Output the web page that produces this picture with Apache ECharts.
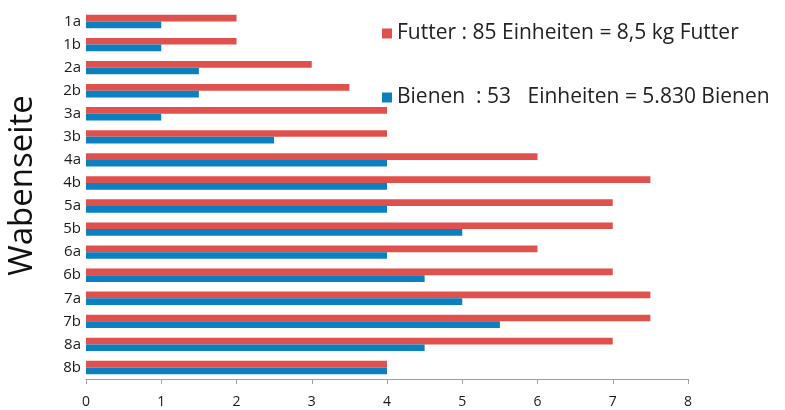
<!DOCTYPE html>
<html>
<head>
<meta charset="utf-8">
<script src="https://cdn.jsdelivr.net/npm/echarts@6/dist/echarts.min.js"></script>
<style>
  html, body { margin: 0; padding: 0; background: #fff; }
  #chart { width: 785px; height: 410px; }
</style>
</head>
<body>
<div id="chart"></div>
<script>
const categories = ['1a', '1b', '2a', '2b', '3a', '3b', '4a', '4b', '5a', '5b', '6a', '6b', '7a', '7b', '8a', '8b'];
const futter = [2, 2, 3, 3.5, 4, 4, 6, 7.5, 7, 7, 6, 7, 7.5, 7.5, 7, 4];
const bienen = [1, 1, 1.5, 1.5, 1, 2.5, 4, 4, 4, 5, 4, 4.5, 5, 5.5, 4.5, 4];
const xTicks = [0, 1, 2, 3, 4, 5, 6, 7, 8];

const legendText = {
  'Futter': 'Futter : 85 Einheiten = 8,5 kg Futter',
  'Bienen': 'Bienen  : 53   Einheiten = 5.830 Bienen'
};

const chart = echarts.init(document.getElementById('chart'));

chart.setOption({
  animation: false,
  textStyle: { fontFamily: 'Open Sans' },
  legend: {
    orient: 'vertical',
    left: 377,
    top: 18,
    itemWidth: 10,
    itemHeight: 10,
    itemGap: 43,
    icon: 'rect',
    formatter: name => legendText[name],
    textStyle: { fontSize: 21, color: '#222', fontFamily: 'Open Sans' }
  },
  grid: {
    left: 86,
    right: 97,
    top: 10,
    bottom: 31,
    outerBoundsMode: 'none'
  },
  xAxis: {
    type: 'value',
    min: xTicks[0],
    max: xTicks[xTicks.length - 1],
    interval: 1,
    splitLine: { show: false },
    axisLine: { show: true, lineStyle: { color: '#a0a0a0' } },
    axisTick: { show: true, length: 5, lineStyle: { color: '#a0a0a0' } },
    axisLabel: { color: '#1a1a1a', fontSize: 14, margin: 16 }
  },
  yAxis: {
    type: 'category',
    data: categories,
    inverse: true,
    name: 'Wabenseite',
    nameLocation: 'middle',
    nameGap: 47,
    nameTextStyle: { fontSize: 33, color: '#111', padding: [0, 0, 0, 18] },
    axisLine: { show: false },
    axisTick: { show: false },
    axisLabel: { color: '#1a1a1a', fontSize: 15, margin: 5 }
  },
  series: [
    {
      name: 'Futter',
      type: 'bar',
      data: futter,
      itemStyle: { color: '#e0504d' },
      barGap: '0%',
      barCategoryGap: '42%'
    },
    {
      name: 'Bienen',
      type: 'bar',
      data: bienen,
      itemStyle: { color: '#0a80c0' },
      barGap: '0%',
      barCategoryGap: '42%'
    }
  ]
});
</script>
</body>
</html>
